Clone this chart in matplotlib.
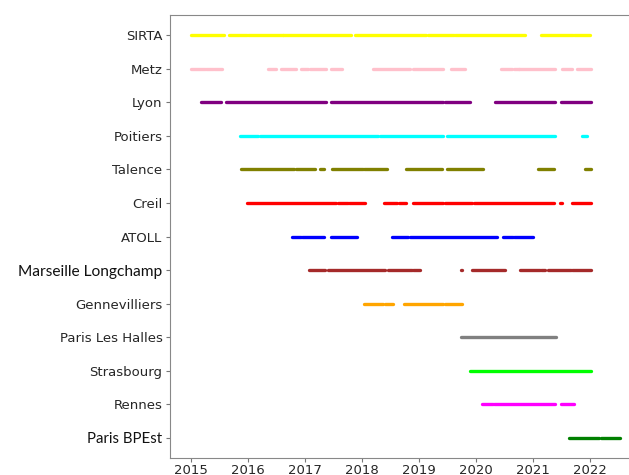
import matplotlib
matplotlib.use("Agg")
import matplotlib.pyplot as plt

# station names, top to bottom
stations = ["SIRTA", "Metz", "Lyon", "Poitiers", "Talence", "Creil", "ATOLL",
            "Marseille Longchamp", "Gennevilliers", "Paris Les Halles",
            "Strasbourg", "Rennes", "Paris BPEst"]
colors = ["yellow", "pink", "purple", "cyan", "olive", "red", "blue",
          "brown", "orange", "gray", "lime", "magenta", "green"]

# periods with data (decimal years)
sirta = [(2015.00, 2015.585), (2015.667, 2015.994), (2016.006, 2016.614),
         (2016.626, 2017.819), (2017.877, 2019.129), (2019.170, 2019.620),
         (2019.637, 2020.865), (2021.152, 2021.702), (2021.725, 2022.00)]
metz = [(2015.00, 2015.251), (2015.263, 2015.398), (2015.409, 2015.556),
        (2016.363, 2016.497), (2016.585, 2016.854), (2016.936, 2017.058),
        (2017.094, 2017.368), (2017.456, 2017.661), (2018.205, 2018.848),
        (2018.895, 2019.433), (2019.561, 2019.813), (2020.450, 2020.632),
        (2020.673, 2020.754), (2020.766, 2021.392), (2021.520, 2021.684),
        (2021.778, 2022.018)]
lyon = [(2015.187, 2015.538), (2015.614, 2017.374), (2017.462, 2019.433),
        (2019.468, 2019.901), (2020.345, 2021.392), (2021.491, 2022.018)]
poitiers = [(2015.865, 2016.181), (2016.216, 2018.281), (2018.327, 2019.421),
            (2019.491, 2021.392), (2021.860, 2021.959)]
talence = [(2015.883, 2016.813), (2016.842, 2017.175), (2017.275, 2017.345),
           (2017.474, 2018.018), (2018.041, 2018.439), (2018.772, 2019.404),
           (2019.497, 2020.135), (2021.088, 2021.363), (2021.918, 2022.018)]
creil = [(2015.994, 2017.544), (2017.591, 2017.766), (2017.784, 2018.053),
         (2018.392, 2018.626), (2018.661, 2018.778), (2018.895, 2019.433),
         (2019.456, 2019.936), (2019.977, 2021.374), (2021.480, 2021.515),
         (2021.696, 2022.018)]
atoll = [(2016.778, 2016.930), (2016.953, 2017.339), (2017.456, 2017.924),
         (2018.532, 2018.807), (2018.848, 2020.368), (2020.485, 2020.661),
         (2020.678, 2021.012)]
marseille = [(2017.076, 2017.363), (2017.404, 2018.409), (2018.468, 2018.889),
             (2018.901, 2019.018), (2019.735, 2019.750), (2019.930, 2020.509),
             (2020.778, 2021.129), (2021.140, 2021.222), (2021.263, 2021.678),
             (2021.690, 2022.018)]
gennevilliers = [(2018.047, 2018.380), (2018.404, 2018.556),
                 (2018.743, 2019.433), (2019.468, 2019.766)]
halles = [(2019.749, 2021.398)]
strasbourg = [(2019.901, 2022.012)]
rennes = [(2020.105, 2020.298), (2020.322, 2021.392), (2021.491, 2021.719)]
bpest = [(2021.643, 2022.158), (2022.199, 2022.532)]

periods = [sirta, metz, lyon, poitiers, talence, creil, atoll, marseille,
           gennevilliers, halles, strasbourg, rennes, bpest]
years = list(range(2015, 2023))

fig = plt.figure(figsize=(6.29, 4.75), dpi=100)
# axes run past the right edge, the original was cropped there
ax = fig.add_axes([0.2703, 0.0358, 0.749, 0.9326])

for row, (segs, c) in enumerate(zip(periods, colors)):
    for a, b in segs:
        ax.plot([a, b], [row, row], color=c, lw=2.4, solid_capstyle="round")

ax.set_xlim(2014.637, 2022.90)
ax.set_ylim(len(stations) - 0.4, -0.6)
ax.set_xticks(years)
ax.set_xticklabels([str(y) for y in years])
ax.set_yticks(range(len(stations)))
ax.set_yticklabels(stations)
ax.tick_params(labelsize=9.5, labelcolor="#262626", length=3, pad=2.5,
               color="#777777")
ax.tick_params(axis="x", pad=1.0)
for s in ax.spines.values():
    s.set_color("#888888")

# these two labels were pasted in with another font
for lab in ax.get_yticklabels():
    if lab.get_text() == "Marseille Longchamp":
        lab.set_family("Lato")
        lab.set_fontsize(11.2)
        lab.set_color("#111111")
        lab.set_text("Marseille Longchamp ")
    elif lab.get_text() == "Paris BPEst":
        lab.set_family("Lato")
        lab.set_fontsize(10.8)
        lab.set_color("#111111")

fig.savefig("out.png", dpi=100)
